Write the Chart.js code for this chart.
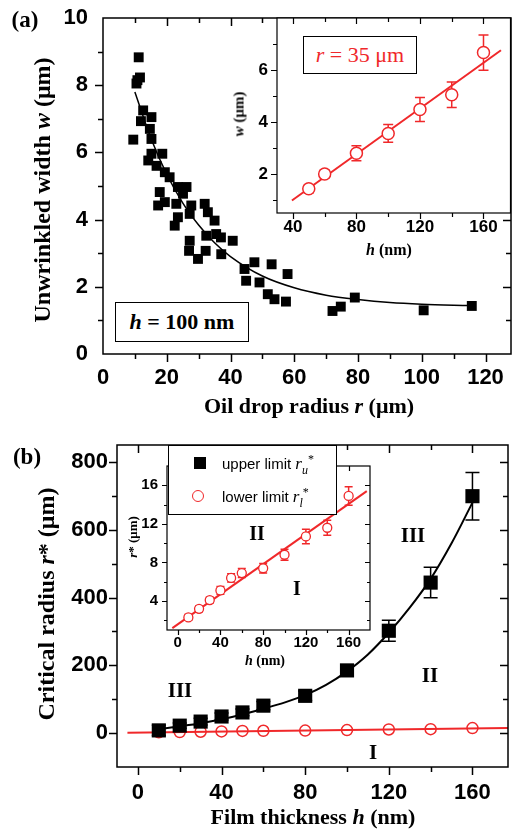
<!DOCTYPE html>
<html>
<head>
<meta charset="utf-8">
<script src="https://cdn.jsdelivr.net/npm/chart.js@4.4.0/dist/chart.umd.min.js"></script>
<style>
body { margin: 0; background: #fff; }
#page { position: relative; width: 518px; height: 839px; overflow: hidden; background: #fff; }
canvas { position: absolute; }
.t { position: absolute; transform: translate(-50%, -50%); white-space: nowrap; line-height: 1;
     font-family: 'Liberation Serif', serif; font-weight: bold; color: #000; }
.rot { transform: translate(-50%, -50%) rotate(-90deg); }
.box { position: absolute; border: 1px solid #000; background: #fff; box-sizing: border-box; }
.lg { position: absolute; transform: translateY(-50%); white-space: nowrap; line-height: 1;
      font-family: 'Liberation Sans', sans-serif; font-size: 15px; color: #000; }
.lg i { font-family: 'Liberation Serif', serif; font-size: 17px; }
.lg sub { font-size: 12px; font-style: italic; }
.lg sup { font-size: 12px; font-style: normal; }
.red { color: #f0282a; }
</style>
</head>
<body>
<div id="page">
  <canvas id="cA" width="518" height="400" style="left:0;top:0"></canvas>
  <canvas id="cAin" width="298" height="260" style="left:220px;top:0"></canvas>
  <canvas id="cB" width="518" height="409" style="left:0;top:430px"></canvas>
  <canvas id="cBin" width="260" height="230" style="left:120px;top:450px"></canvas>

  <!-- panel (a) texts -->
  <div class="t" style="left:25px;top:19px;font-size:23px">(a)</div>
  <div class="t rot" style="left:42px;top:190px;font-size:24px">Unwrinkled width <i>w</i> (μm)</div>
  <div class="t" style="left:309px;top:406px;font-size:22px">Oil drop radius <i>r</i> (μm)</div>
  <div class="box" style="left:115px;top:302px;width:134px;height:40px"></div>
  <div class="t" style="left:182px;top:322px;font-size:22px"><i>h</i> = 100 nm</div>
  <div class="box" style="left:303px;top:36px;width:114px;height:38px"></div>
  <div class="t red" style="left:360px;top:55px;font-size:22px;font-weight:normal"><i>r</i> = 35 μm</div>
  <div class="t rot" style="left:239px;top:114px;font-size:15px"><i>w</i> (μm)</div>
  <div class="t" style="left:389px;top:250px;font-size:16px"><i>h</i> (nm)</div>

  <!-- panel (b) texts -->
  <div class="t" style="left:27px;top:456px;font-size:23px">(b)</div>
  <div class="t rot" style="left:46px;top:604px;font-size:24px">Critical radius <i>r</i>* (μm)</div>
  <div class="t" style="left:313px;top:817px;font-size:22px">Film thickness <i>h</i> (nm)</div>
  <div class="t rot" style="left:132px;top:537px;font-size:13px"><i>r</i>* (μm)</div>
  <div class="t" style="left:265px;top:661px;font-size:14px"><i>h</i> (nm)</div>
  <div class="t" style="left:180px;top:690px;font-size:21px">III</div>
  <div class="t" style="left:413px;top:535px;font-size:21px">III</div>
  <div class="t" style="left:430px;top:675px;font-size:21px">II</div>
  <div class="t" style="left:373px;top:752px;font-size:21px">I</div>
  <div class="t" style="left:257px;top:533px;font-size:20px">II</div>
  <div class="t" style="left:297px;top:588px;font-size:20px">I</div>

  <!-- legend of panel (b) -->
  <div class="box" style="left:168px;top:445px;width:169px;height:70px"></div>
  <div style="position:absolute;left:194px;top:457px;width:12px;height:12px;background:#000"></div>
  <div class="lg" style="left:222px;top:464px">upper limit <i>r<sub>u</sub><sup>*</sup></i></div>
  <div style="position:absolute;left:192px;top:490px;width:10px;height:10px;border:1.5px solid #f0282a;border-radius:50%"></div>
  <div class="lg" style="left:222px;top:497px">lower limit <i>r<sub>l</sub><sup>*</sup></i></div>
</div>

<script>
// Panel (a): unwrinkled width w (um) against oil drop radius r (um), h = 100 nm
const radiusA = [11.2, 10.8, 11.6, 10.5, 12.6, 15.2, 11.9, 9.5, 14.7, 15.2, 15.2, 18.6, 14.2, 16.8,
  19.4, 20.9, 17.8, 17.3, 19.4, 23.5, 26.2, 25.1, 23.0, 27.7, 31.9, 27.2, 32.9, 23.5, 22.5, 35.0,
  32.4, 35.5, 37.0, 27.2, 40.7, 27.0, 32.2, 29.8, 37.1, 44.4, 47.5, 52.9, 44.9, 49.1, 57.9, 51.7,
  53.8, 57.4, 72.0, 74.6, 79.0, 100.6, 115.7];
const widthA = [8.83, 8.15, 8.23, 8.05, 7.25, 7.05, 6.93, 6.38, 6.70, 6.40, 5.96, 5.96, 5.76, 5.60,
  5.41, 5.26, 4.82, 4.42, 4.52, 4.97, 4.97, 4.77, 4.47, 4.42, 4.47, 4.17, 4.22, 4.07, 3.82, 3.97,
  3.52, 3.57, 3.47, 3.37, 3.37, 3.07, 3.07, 2.83, 2.97, 2.53, 2.73, 2.67, 2.18, 2.13, 2.38, 1.78,
  1.63, 1.56, 1.28, 1.41, 1.68, 1.30, 1.43];
// fitted decay curve
const fitRadiusA = [10, 15, 20, 25, 30, 35, 40, 50, 60, 70, 80, 90, 100, 115];
const fitWidthA = [7.8, 6.43, 5.35, 4.5, 3.84, 3.31, 2.9, 2.32, 1.97, 1.75, 1.62, 1.53, 1.48, 1.44];

// Inset (a): w against film thickness h, r = 35 um
const thickInA = [50, 60, 80, 100, 120, 140, 160];
const widthInA = [1.43, 2.0, 2.8, 3.56, 4.48, 5.05, 6.67];
const widthErrInA = [0.15, 0.14, 0.29, 0.34, 0.46, 0.49, 0.68];
const fitThickInA = [39.4, 171];
const fitWidthInA = [0.98, 6.76];

// Panel (b): critical radius r* (um) against film thickness h (nm)
const thickB = [10, 20, 30, 40, 50, 60, 80, 100, 120, 140, 160];
const upperB = [8, 22, 34, 49, 61, 81, 110, 185, 302, 444, 699];
const upperErrB = [15, 8, 10, 10, 10, 12, 14, 16, 31, 45, 70];
const lowerB = [2.3, 3.2, 4.1, 5.1, 6.4, 6.9, 7.4, 8.8, 10.7, 11.6, 14.9];
const lowerErrB = [0.3, 0.3, 0.3, 0.4, 0.43, 0.47, 0.5, 0.58, 0.75, 0.77, 0.96];
const fitThickUpper = [10, 20, 30, 40, 50, 60, 70, 80, 90, 100, 110, 120, 130, 140, 150, 160];
const fitUpper = [12, 20, 29, 41, 55, 72, 90, 112, 142, 182, 232, 296, 370, 455, 560, 680];
const fitThickLower = [-5, 177];
const fitLower = [1.2, 15.4];

const RED = '#f0282a';
const pts = (xs, ys) => xs.map((x, i) => ({ x: x, y: ys[i] }));

// box round the plot area, with tick marks (major longer than minor)
const framePlugin = {
  id: 'frame',
  beforeDraw(chart, args, o) {
    if (!o.white) return;
    const a = chart.chartArea, ctx = chart.ctx;
    ctx.save();
    ctx.fillStyle = '#fff';
    ctx.fillRect(a.left, a.top, a.right - a.left, a.bottom - a.top);
    ctx.restore();
  },
  afterDraw(chart, args, o) {
    const { ctx, chartArea: a, scales: { x, y } } = chart;
    ctx.save();
    ctx.strokeStyle = '#000';
    ctx.lineWidth = o.lw || 1.5;
    ctx.strokeRect(a.left, a.top, a.right - a.left, a.bottom - a.top);
    ctx.beginPath();
    x.ticks.forEach(t => {
      if (t.value <= x.min || t.value >= x.max) return;
      const px = Math.round(x.getPixelForValue(t.value)) + 0.5;
      const len = t.value % o.xMajor === 0 ? o.major : o.minor;
      ctx.moveTo(px, a.bottom); ctx.lineTo(px, a.bottom + len);
      if (o.top) { ctx.moveTo(px, a.top); ctx.lineTo(px, a.top + len); }
    });
    y.ticks.forEach(t => {
      if (t.value <= y.min || t.value >= y.max) return;
      const py = Math.round(y.getPixelForValue(t.value)) + 0.5;
      const len = t.value % o.yMajor === 0 ? o.major : o.minor;
      ctx.moveTo(a.left, py); ctx.lineTo(a.left - len, py);
      if (o.right) { ctx.moveTo(a.right, py); ctx.lineTo(a.right - len, py); }
    });
    ctx.stroke();
    ctx.restore();
  }
};

// vertical error bars with caps, drawn under the markers
const errorBarPlugin = {
  id: 'errorBars',
  beforeDatasetsDraw(chart) {
    const { ctx, scales: { y } } = chart;
    chart.data.datasets.forEach((ds, i) => {
      if (!ds.errorBars) return;
      const meta = chart.getDatasetMeta(i);
      ctx.save();
      ctx.strokeStyle = ds.borderColor;
      ctx.lineWidth = 1.5;
      ctx.beginPath();
      meta.data.forEach((p, j) => {
        const e = ds.errorBars[j];
        if (!e) return;
        const v = ds.data[j].y;
        const y1 = y.getPixelForValue(v + e), y2 = y.getPixelForValue(v - e);
        const c = ds.cap || 4;
        ctx.moveTo(p.x, y1); ctx.lineTo(p.x, y2);
        ctx.moveTo(p.x - c, y1); ctx.lineTo(p.x + c, y1);
        ctx.moveTo(p.x - c, y2); ctx.lineTo(p.x + c, y2);
      });
      ctx.stroke();
      ctx.restore();
    });
  }
};

function fixSize(w, h) {
  return s => {
    if (w !== undefined) s.width = w;
    if (h !== undefined) s.height = h;
    s.paddingLeft = s.paddingRight = s.paddingTop = s.paddingBottom = 0;
  };
}

function axis(min, max, step, show, fontSize, pad, fit) {
  return {
    type: 'linear', min: min, max: max,
    grid: { display: false, drawTicks: false },
    border: { display: false },
    afterFit: fit,
    ticks: {
      stepSize: step, includeBounds: false, autoSkip: false, maxRotation: 0,
      padding: pad, color: '#000',
      font: { family: 'Liberation Sans', weight: 'bold', size: fontSize },
      callback: v => show(v) ? String(v) : ''
    }
  };
}

function makeChart(id, datasets, xAxis, yAxis, padding, frame) {
  return new Chart(document.getElementById(id), {
    type: 'scatter',
    data: { datasets: datasets },
    options: {
      responsive: false, animation: false, devicePixelRatio: 1,
      layout: { padding: padding },
      scales: { x: xAxis, y: yAxis },
      plugins: { legend: { display: false }, tooltip: { enabled: false }, frame: frame }
    },
    plugins: [framePlugin, errorBarPlugin]
  });
}

// panel (a)
makeChart('cA', [
  { data: pts(radiusA, widthA), pointStyle: 'rect', pointRadius: 7, backgroundColor: '#000', borderColor: '#000', borderWidth: 0 },
  { data: pts(fitRadiusA, fitWidthA), showLine: true, pointRadius: 0, borderColor: '#000', borderWidth: 1.5, cubicInterpolationMode: 'monotone' }
],
  axis(0, 128, 10, v => v % 20 === 0, 22, 11, fixSize(undefined, 46)),
  axis(0, 10, 1, v => v % 2 === 0, 22, 15, fixSize(103)),
  { top: 18, right: 2, left: 0, bottom: 0 },
  { major: 8, minor: 5, xMajor: 20, yMajor: 2, top: true, right: true });

// inset (a)
makeChart('cAin', [
  { data: pts(thickInA, widthInA), errorBars: widthErrInA, cap: 5, pointStyle: 'circle', pointRadius: 6, backgroundColor: '#fff', borderColor: RED, borderWidth: 1.5 },
  { data: pts(fitThickInA, fitWidthInA), showLine: true, pointRadius: 0, borderColor: RED, borderWidth: 2 }
],
  axis(30, 177, 20, v => v % 40 === 0, 17, 4, fixSize(undefined, 47)),
  axis(0.5, 8, 1, v => v % 2 === 0 && v < 8, 17, 9, fixSize(57)),
  { top: 18, right: 2, left: 0, bottom: 0 },
  { major: 6, minor: 4, xMajor: 40, yMajor: 2, top: true, right: false, white: true, lw: 1.2 });

// panel (b)
makeChart('cB', [
  { data: pts(thickB, upperB), errorBars: upperErrB, cap: 7, pointStyle: 'rect', pointRadius: 10, backgroundColor: '#000', borderColor: '#000', borderWidth: 0 },
  { data: pts(thickB, lowerB), pointStyle: 'circle', pointRadius: 5.5, backgroundColor: 'rgba(0,0,0,0)', borderColor: RED, borderWidth: 1.5 },
  { data: pts(fitThickUpper, fitUpper), showLine: true, pointRadius: 0, borderColor: '#000', borderWidth: 2, cubicInterpolationMode: 'monotone' },
  { data: pts(fitThickLower, fitLower), showLine: true, pointRadius: 0, borderColor: RED, borderWidth: 2 }
],
  axis(-10, 177, 20, v => v % 40 === 0, 22, 13, fixSize(undefined, 72)),
  axis(-100, 850, 100, v => v % 200 === 0 && v >= 0 && v <= 800, 22, 9, fixSize(117)),
  { top: 15, right: 2, left: 0, bottom: 0 },
  { major: 8, minor: 5, xMajor: 40, yMajor: 200, top: true, right: true });

// inset (b)
makeChart('cBin', [
  { data: pts(thickB, lowerB), errorBars: lowerErrB, cap: 4, pointStyle: 'circle', pointRadius: 4.5, backgroundColor: '#fff', borderColor: RED, borderWidth: 1.3 },
  { data: pts(fitThickLower, fitLower), showLine: true, pointRadius: 0, borderColor: RED, borderWidth: 2 }
],
  axis(-10, 180, 20, v => v % 40 === 0, 15, 4, fixSize(undefined, 50)),
  axis(1, 18, 2, v => v % 4 === 0 && v <= 16, 15, 9, fixSize(47)),
  { top: 16, right: 10, left: 0, bottom: 0 },
  { major: 5, minor: 3, xMajor: 40, yMajor: 4, top: true, right: true, white: true, lw: 1.2 });
</script>
</body>
</html>
